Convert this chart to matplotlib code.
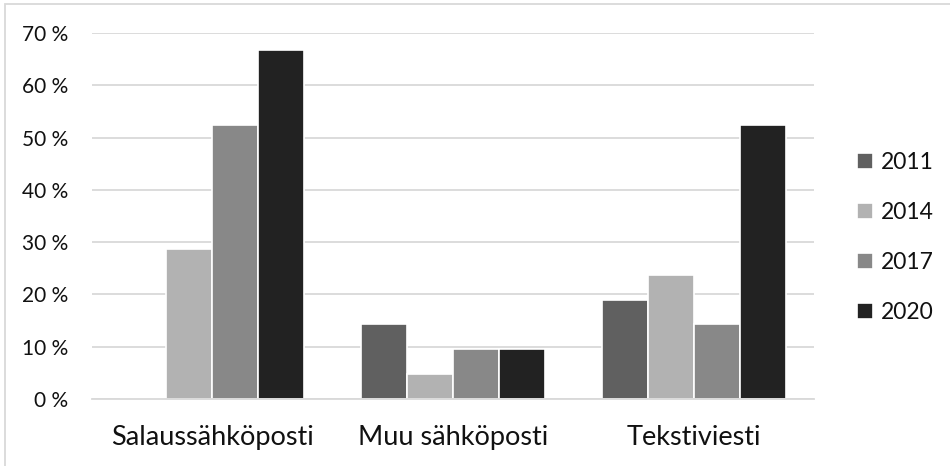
import matplotlib
matplotlib.use("Agg")
import matplotlib.pyplot as plt
from matplotlib.patches import Rectangle
import numpy as np

categories = ["Salaussähköposti", "Muu sähköposti", "Tekstiviesti"]
years = ["2011", "2014", "2017", "2020"]
values = {
    "2011": [0.0, 14.3, 19.0],
    "2014": [28.6, 4.8, 23.8],
    "2017": [52.4, 9.5, 14.3],
    "2020": [66.7, 9.5, 52.4],
}
colors = {"2011": "#606060", "2014": "#b2b2b2", "2017": "#888888", "2020": "#222222"}
yticks = [0, 10, 20, 30, 40, 50, 60, 70]

plt.rcParams["font.family"] = ["Lato", "DejaVu Sans"]

fig = plt.figure(figsize=(9.5, 4.66), dpi=100)
ax = fig.add_axes([92 / 950, 67 / 466, (814 - 92) / 950, (399 - 33) / 466])

x = np.arange(len(categories))
slot = 0.191
for i, yr in enumerate(years):
    offs = (i - 1.5) * slot
    ax.bar(x + offs, values[yr], width=slot, color=colors[yr],
           edgecolor="white", linewidth=1.2, label=yr, zorder=3)

ax.set_xlim(-0.5, 2.5)
ax.set_ylim(0, 70)
ax.set_yticks(yticks)
ax.set_yticklabels([f"{v} %" for v in yticks], fontsize=15, color="#111111")
ax.set_xticks(x)
ax.set_xticklabels(categories, fontsize=19.5, color="#111111")
ax.tick_params(axis="both", length=0)
ax.tick_params(axis="y", pad=17)
ax.tick_params(axis="x", pad=19)
ax.grid(axis="y", color="#d9d9d9", linewidth=1.3, zorder=0)
for s in ["top", "right", "left"]:
    ax.spines[s].set_visible(False)
ax.spines["bottom"].set_color("#d9d9d9")
ax.spines["bottom"].set_linewidth(1.3)
ax.spines["bottom"].set_zorder(4)

leg = fig.legend(loc="center left", bbox_to_anchor=(836 / 950, 228.5 / 466),
                 frameon=False, fontsize=16.5, handlelength=0.7, handleheight=0.7,
                 handletextpad=0.35, labelspacing=1.27)
for t in leg.get_texts():
    t.set_color("#111111")

fig.patches.append(Rectangle((5 / 950, -0.05), 1, 1.05 - 4 / 466, transform=fig.transFigure,
                             fill=False, edgecolor="#d9d9d9", linewidth=1.3))

fig.savefig("out.png", dpi=100, facecolor="white")
